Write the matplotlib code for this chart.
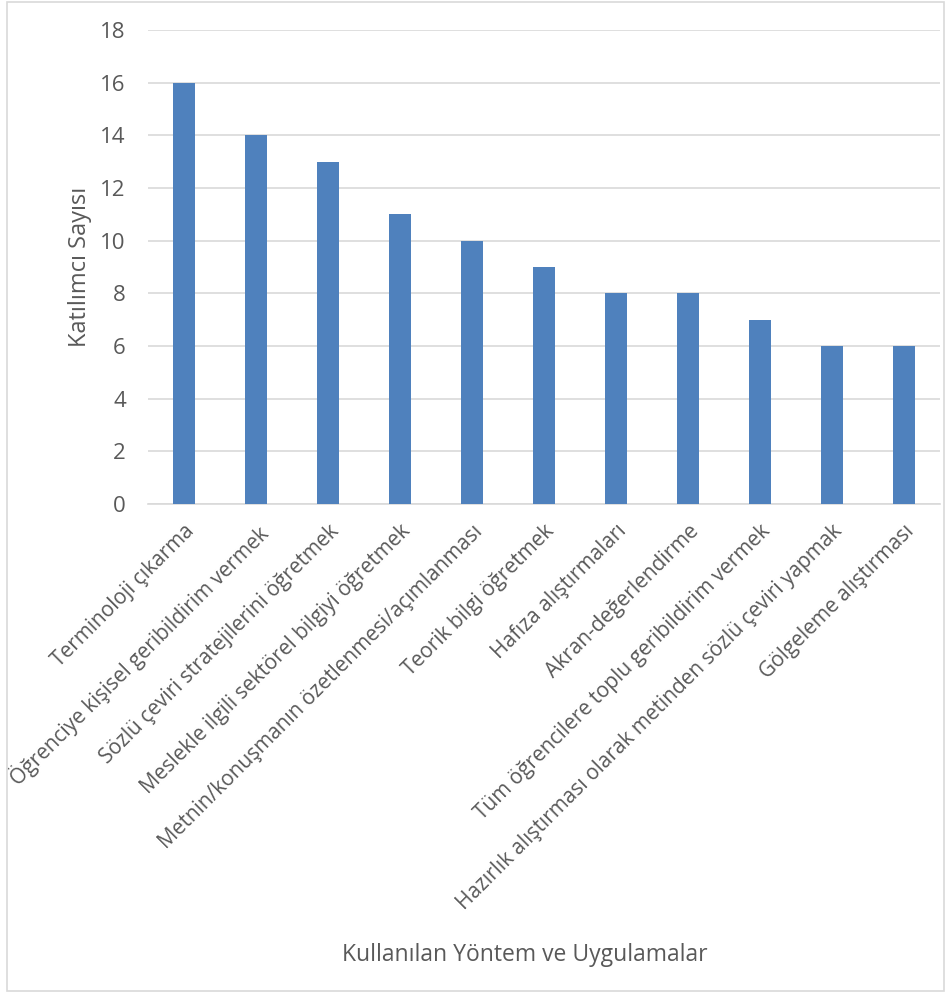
import matplotlib.pyplot as plt
from matplotlib.patches import Rectangle

plt.rcParams['font.family'] = ['Open Sans', 'DejaVu Sans']

# Data
methods = [
    'Terminoloji çıkarma',
    'Öğrenciye kişisel geribildirim vermek',
    'Sözlü çeviri stratejilerini öğretmek',
    'Meslekle ilgili sektörel bilgiyi öğretmek',
    'Metnin/konuşmanın özetlenmesi/açımlanması',
    'Teorik bilgi öğretmek',
    'Hafıza alıştırmaları',
    'Akran-değerlendirme',
    'Tüm öğrencilere toplu geribildirim vermek',
    'Hazırlık alıştırması olarak metinden sözlü çeviri yapmak',
    'Gölgeleme alıştırması',
]
counts = [16, 14, 13, 11, 10, 9, 8, 8, 7, 6, 6]
y_ticks = [0, 2, 4, 6, 8, 10, 12, 14, 16, 18]

text_color = '#595959'
grid_color = '#d9d9d9'

fig = plt.figure(figsize=(9.51, 9.93), dpi=100)
ax = fig.add_axes([0.1556, 0.4924, 0.8328, 0.4774])

x = range(len(methods))
ax.bar(x, counts, width=0.31, color='#4f81bd', zorder=3)

ax.set_xlim(-0.5, len(methods) - 0.5)
ax.set_ylim(0, 18)
ax.set_yticks(y_ticks)
ax.set_yticklabels([str(v) for v in y_ticks], fontsize=16, color=text_color)
ax.grid(axis='y', color=grid_color, linewidth=1.2, zorder=0)

ax.set_xticks(list(x))
ax.set_xticklabels(methods, rotation=45, ha='right', va='top',
                   rotation_mode='anchor', fontsize=15, color=text_color)
ax.tick_params(axis='both', length=0)
ax.tick_params(axis='y', pad=16)
ax.tick_params(axis='x', pad=12)

for s in ['top', 'right', 'left']:
    ax.spines[s].set_visible(False)
ax.spines['bottom'].set_color(grid_color)
ax.spines['bottom'].set_linewidth(1.2)

ax.set_ylabel('Katılımcı Sayısı', fontsize=17, color=text_color, va='center')
ax.yaxis.set_label_coords(-0.086, 0.5)
fig.text(0.552, 0.038, 'Kullanılan Yöntem ve Uygulamalar', fontsize=16.5,
         color=text_color, ha='center', va='center')

# outer chart border
fig.patches.append(Rectangle((0.007, 0.002), 0.986, 0.996, transform=fig.transFigure,
                             fill=False, edgecolor=grid_color, linewidth=1.2))

fig.savefig('out.png', dpi=100)
